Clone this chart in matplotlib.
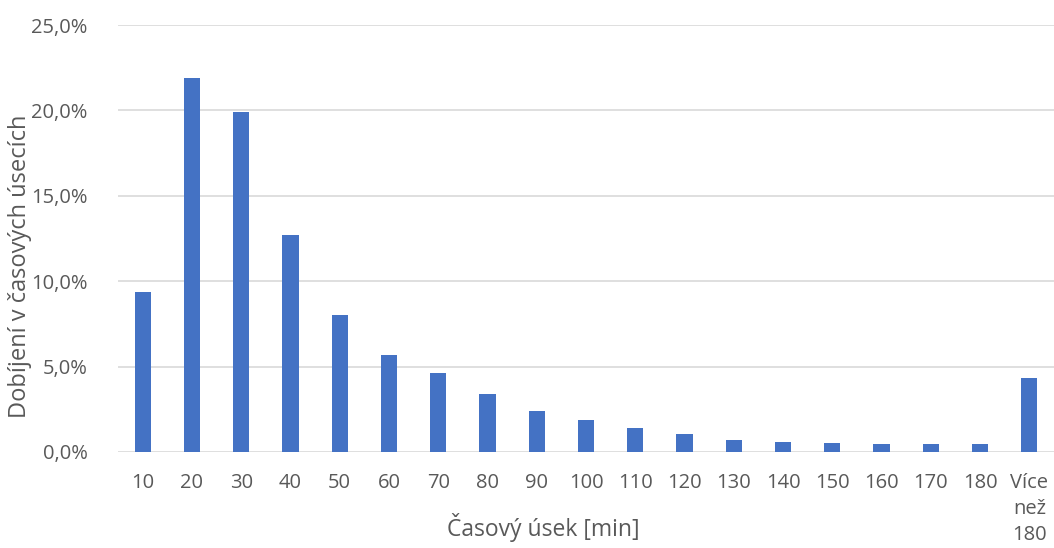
import matplotlib
matplotlib.use("Agg")
import matplotlib.pyplot as plt
from matplotlib.ticker import FuncFormatter, MultipleLocator

plt.rcParams['font.family'] = ['Open Sans', 'DejaVu Sans']

# data
categories = ['10', '20', '30', '40', '50', '60', '70', '80', '90', '100',
              '110', '120', '130', '140', '150', '160', '170', '180', 'Více\nnež\n180']
shares = [9.37, 21.9, 19.9, 12.69, 8.0, 5.66, 4.64, 3.40, 2.42, 1.85,
          1.40, 1.03, 0.70, 0.59, 0.51, 0.47, 0.47, 0.45, 4.33]

BAR_COLOR = '#4472C4'
TEXT_COLOR = '#595959'
GRID_COLOR = '#D9D9D9'

fig = plt.figure(figsize=(10.54, 5.48), dpi=100)
ax = fig.add_axes([118 / 1054, 1 - 452 / 548, (1054 - 118) / 1054, (452 - 25) / 548])

x = range(len(categories))
ax.bar(x, shares, width=0.33, color=BAR_COLOR, zorder=3)

ax.set_xlim(-0.5, len(categories) - 0.5)
ax.set_ylim(0, 25)
ax.yaxis.set_major_locator(MultipleLocator(5))
ax.yaxis.set_major_formatter(FuncFormatter(lambda v, p: f"{v:.1f}".replace('.', ',') + '%'))
ax.grid(axis='y', color=GRID_COLOR, linewidth=1.2, zorder=0)

ax.set_xticks(list(x))
ax.set_xticklabels(categories, va='top', linespacing=1.4)

for side in ['top', 'right', 'left', 'bottom']:
    ax.spines[side].set_visible(False)
ax.tick_params(axis='both', length=0, colors=TEXT_COLOR, labelsize=14.5)
ax.tick_params(axis='x', pad=15)
ax.tick_params(axis='y', pad=22)

ax.set_xlabel('Časový úsek [min]', color=TEXT_COLOR, fontsize=16.5, va='center')
ax.xaxis.set_label_coords((543 - 118) / 936, -(528 - 452) / 427)
ax.set_ylabel('Dobíjení v časových úsecích', color=TEXT_COLOR, fontsize=17, va='center')
ax.yaxis.set_label_coords(-(118 - 20) / 936, (452 - 266) / 427)

fig.savefig('out.png', dpi=100)
